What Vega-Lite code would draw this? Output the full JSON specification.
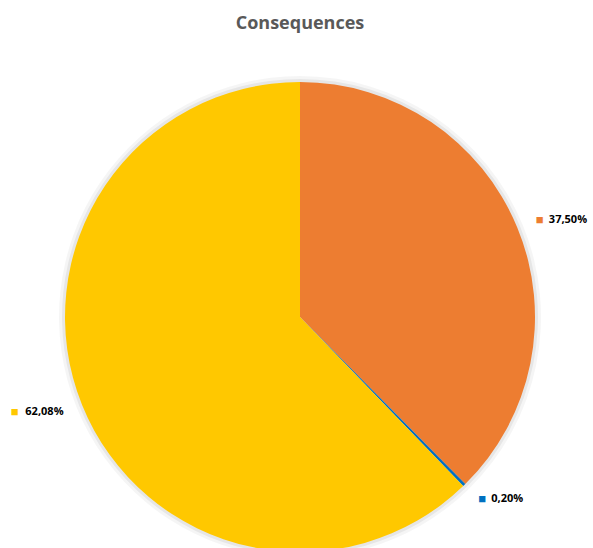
{
  "$schema": "https://vega.github.io/schema/vega-lite/v6.json",
  "autosize": "none",
  "padding": {"top": 40, "left": 0, "right": 0, "bottom": 0},
  "width": 600,
  "height": 554,
  "background": "white",
  "title": {
    "text": "Consequences",
    "font": "Open Sans",
    "fontSize": 18,
    "fontWeight": "bold",
    "color": "#595959",
    "anchor": "middle",
    "frame": "group",
    "baseline": "alphabetic",
    "offset": 14,
    "dy": 21
  },
  "data": {
    "values": [
      {"category": "Orange", "rank": 1, "value": 37.50, "label": "37,50%", "side": "right"},
      {"category": "Blue", "rank": 2, "value": 0.20, "label": "0,20%", "side": "right"},
      {"category": "Yellow", "rank": 3, "value": 62.08, "label": "62,08%", "side": "left"}
    ]
  },
  "encoding": {
    "theta": {"field": "value", "type": "quantitative", "stack": true},
    "order": {"field": "rank", "type": "ordinal"}
  },
  "layer": [
    {
      "mark": {"type": "arc", "outerRadius": 241, "color": "#000000", "opacity": 0.04}
    },
    {
      "mark": {"type": "arc", "outerRadius": 238, "color": "#000000", "opacity": 0.06}
    },
    {
      "mark": {"type": "arc", "outerRadius": 235},
      "encoding": {
        "color": {
          "field": "category",
          "type": "nominal",
          "scale": {"domain": ["Orange", "Blue", "Yellow"], "range": ["#ED7D31", "#0070C0", "#FFC800"]},
          "legend": null
        }
      }
    },
    {
      "mark": {"type": "text", "radius": 255, "align": "left", "baseline": "middle", "font": "Open Sans", "fontSize": 13},
      "encoding": {
        "text": {"condition": {"test": "datum.side === 'right'", "value": "■"}, "value": ""},
        "color": {
          "field": "category",
          "type": "nominal",
          "scale": {"domain": ["Orange", "Blue", "Yellow"], "range": ["#ED7D31", "#0070C0", "#FFC800"]},
          "legend": null
        }
      }
    },
    {
      "mark": {"type": "text", "radius": 255, "align": "left", "baseline": "middle", "font": "Open Sans", "fontSize": 11, "fontWeight": "bold", "color": "#000000", "dx": 13},
      "encoding": {"text": {"condition": {"test": "datum.side === 'right'", "field": "label"}, "value": ""}}
    },
    {
      "mark": {"type": "text", "radius": 255, "align": "right", "baseline": "middle", "font": "Open Sans", "fontSize": 13, "dx": -45},
      "encoding": {
        "text": {"condition": {"test": "datum.side === 'left'", "value": "■"}, "value": ""},
        "color": {
          "field": "category",
          "type": "nominal",
          "scale": {"domain": ["Orange", "Blue", "Yellow"], "range": ["#ED7D31", "#0070C0", "#FFC800"]},
          "legend": null
        }
      }
    },
    {
      "mark": {"type": "text", "radius": 255, "align": "right", "baseline": "middle", "font": "Open Sans", "fontSize": 11, "fontWeight": "bold", "color": "#000000"},
      "encoding": {"text": {"condition": {"test": "datum.side === 'left'", "field": "label"}, "value": ""}}
    }
  ]
}
